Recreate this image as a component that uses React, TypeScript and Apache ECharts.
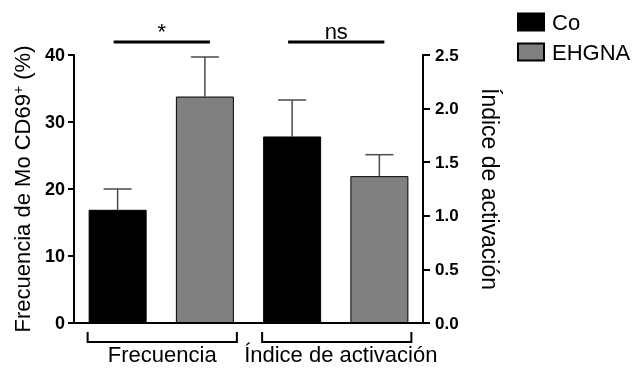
import React, { useEffect, useRef } from "react";
import * as echarts from "echarts";

const barSlots = ["Co-Frec", "EHGNA-Frec", "Co-Ind", "EHGNA-Ind"];
const groups = ["Frecuencia", "Índice de activación"];
const coFrecuencia = 16.9;
const ehgnaFrecuencia = 33.8;
const coIndice = 1.74;
const ehgnaIndice = 1.37;
const frecErrTop = [20.0, 39.7];
const indiceErrTop = [2.08, 1.57];
const leftTicks = { min: 0, max: 40, interval: 10 };
const rightTicks = { min: 0, max: 2.5, interval: 0.5 };
const significance = ["*", "ns"];

const FONT = "'Liberation Sans', Arial, Helvetica, sans-serif";

export default function App() {
  const ref = useRef<HTMLDivElement>(null);
  useEffect(() => {
    if (!ref.current) return;
    const chart = echarts.init(ref.current, undefined, { renderer: "svg" });
    const errRender = (params: any, api: any) => {
      const x = api.value(0);
      const base = api.coord([x, api.value(1)]);
      const top = api.coord([x, api.value(2)]);
      const style = { stroke: "#4a4a4a", lineWidth: 1.5 };
      return {
        type: "group",
        children: [
          { type: "line", shape: { x1: base[0], y1: base[1], x2: top[0], y2: top[1] }, style },
          { type: "line", shape: { x1: top[0] - 14, y1: top[1], x2: top[0] + 14, y2: top[1] }, style },
        ],
      };
    };
    const bracketRender = (params: any, api: any) => {
      const a = api.coord([api.value(0), 0]);
      const b = api.coord([api.value(1), 0]);
      const x1 = a[0] - 30;
      const x2 = b[0] + 32;
      const yTop = a[1] + 9;
      const yBot = a[1] + 19;
      return {
        type: "group",
        children: [
          {
            type: "polyline",
            shape: { points: [[x1, yTop], [x1, yBot], [x2, yBot], [x2, yTop]] },
            style: { stroke: "#000", lineWidth: 2, fill: "none" },
          },
          {
            type: "text",
            x: (x1 + x2) / 2 + params.dataIndex * 4,
            y: a[1] + 31,
            style: {
              text: groups[params.dataIndex],
              fontSize: 22,
              fontFamily: FONT,
              fill: "#000",
              align: "center",
              verticalAlign: "middle",
            },
          },
        ],
      };
    };
    const sigRender = (params: any, api: any) => {
      const a = api.coord([api.value(0), leftTicks.max]);
      const b = api.coord([api.value(1), leftTicks.max]);
      const x1 = a[0] - 4;
      const x2 = b[0] + 5;
      const y = a[1] - 13;
      return {
        type: "group",
        children: [
          { type: "line", shape: { x1, y1: y, x2, y2: y }, style: { stroke: "#000", lineWidth: 3 } },
          {
            type: "text",
            x: (x1 + x2) / 2,
            y: y - 11,
            style: {
              text: significance[params.dataIndex],
              fontSize: 22,
              fontFamily: FONT,
              fill: "#000",
              align: "center",
              verticalAlign: "middle",
            },
          },
        ],
      };
    };
    const barCommon = { type: "bar", barWidth: 58, barGap: "-100%" };
    chart.setOption({
      animation: false,
      textStyle: { fontFamily: FONT },
      grid: { left: 74, right: 211, top: 55, bottom: 45 },
      legend: {
        data: ["Co", "EHGNA"],
        orient: "vertical",
        left: 512,
        top: 6,
        icon: "rect",
        itemWidth: 26,
        itemHeight: 17,
        itemGap: 8,
        textStyle: { fontSize: 22, color: "#000", fontFamily: FONT, padding: [0, 0, 0, 3] },
      },
      xAxis: {
        type: "category",
        data: barSlots,
        axisLine: { lineStyle: { color: "#000", width: 2 } },
        axisTick: { show: false },
        axisLabel: { show: false },
      },
      yAxis: [
        {
          type: "value",
          ...leftTicks,
          position: "left",
          name: "Frecuencia de Mo CD69{sup|+} (%)",
          nameLocation: "middle",
          nameRotate: 90,
          nameGap: 41,
          nameTextStyle: {
            fontSize: 22,
            color: "#000",
            fontFamily: FONT,
            rich: { sup: { fontSize: 14, verticalAlign: "top", color: "#000", fontFamily: FONT } },
          },
          axisLine: { show: true, lineStyle: { color: "#000", width: 2 } },
          axisTick: { show: true, length: 6, lineStyle: { color: "#000", width: 2 } },
          axisLabel: { fontSize: 18, fontWeight: "bold", color: "#000", margin: 9, fontFamily: FONT },
          splitLine: { show: false },
        },
        {
          type: "value",
          ...rightTicks,
          position: "right",
          name: "Índice de activación",
          nameLocation: "middle",
          nameRotate: -90,
          nameGap: 55,
          nameTextStyle: { fontSize: 23, color: "#000", fontFamily: FONT },
          axisLine: { show: true, lineStyle: { color: "#000", width: 2 } },
          axisTick: { show: true, length: 7, lineStyle: { color: "#000", width: 2 } },
          axisLabel: {
            fontSize: 17,
            fontWeight: "bold",
            color: "#000",
            margin: 12,
            fontFamily: FONT,
            formatter: (v: number) => v.toFixed(1),
          },
          splitLine: { show: false },
        },
      ],
      series: [
        {
          ...barCommon,
          name: "Co",
          yAxisIndex: 0,
          data: [coFrecuencia, "-", "-", "-"],
          itemStyle: { color: "#000", borderColor: "#000", borderWidth: 1 },
        },
        {
          ...barCommon,
          name: "EHGNA",
          yAxisIndex: 0,
          data: ["-", ehgnaFrecuencia, "-", "-"],
          itemStyle: { color: "#808080", borderColor: "#000", borderWidth: 1 },
        },
        {
          ...barCommon,
          name: "Co",
          yAxisIndex: 1,
          data: ["-", "-", coIndice, "-"],
          itemStyle: { color: "#000", borderColor: "#000", borderWidth: 1 },
        },
        {
          ...barCommon,
          name: "EHGNA",
          yAxisIndex: 1,
          data: ["-", "-", "-", ehgnaIndice],
          itemStyle: { color: "#808080", borderColor: "#000", borderWidth: 1 },
        },
        {
          type: "custom",
          name: "errFrec",
          yAxisIndex: 0,
          clip: false,
          renderItem: errRender,
          encode: { x: 0, y: [1, 2] },
          data: [
            [0, coFrecuencia, frecErrTop[0]],
            [1, ehgnaFrecuencia, frecErrTop[1]],
          ],
          z: 1,
        },
        {
          type: "custom",
          name: "errInd",
          yAxisIndex: 1,
          clip: false,
          renderItem: errRender,
          encode: { x: 0, y: [1, 2] },
          data: [
            [2, coIndice, indiceErrTop[0]],
            [3, ehgnaIndice, indiceErrTop[1]],
          ],
          z: 1,
        },
        {
          type: "custom",
          name: "brackets",
          yAxisIndex: 0,
          clip: false,
          renderItem: bracketRender,
          encode: { x: [0, 1] },
          data: [
            [0, 1],
            [2, 3],
          ],
        },
        {
          type: "custom",
          name: "sig",
          yAxisIndex: 0,
          clip: false,
          renderItem: sigRender,
          encode: { x: [0, 1] },
          data: [
            [0, 1],
            [2, 3],
          ],
        },
      ],
    });
    return () => chart.dispose();
  }, []);
  return <div ref={ref} style={{ width: 634, height: 368, position: "fixed", left: 0, top: 0 }} />;
}
